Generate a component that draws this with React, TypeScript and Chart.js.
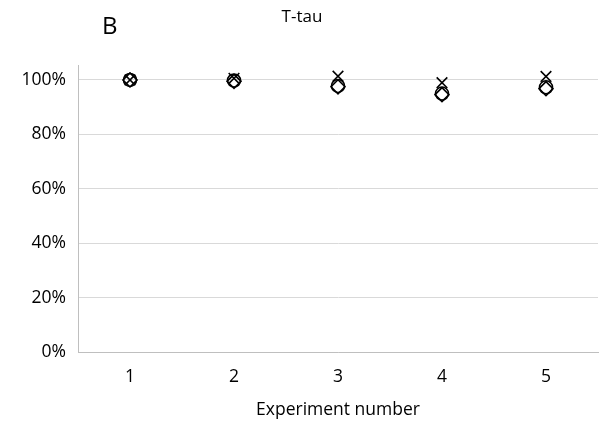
import React, { useEffect, useRef } from "react";
import { Chart, registerables } from "chart.js";

Chart.register(...registerables);

const categories = ["1", "2", "3", "4", "5"];
const circleSeries = [100, 99.8, 97.8, 95.0, 97.3];
const diamondSeries = [100, 99.5, 97.5, 94.6, 96.8];
const crossSeries = [100, 100.6, 101.4, 99.0, 101.3];
const yTicks = [0, 20, 40, 60, 80, 100];
const chartTitle = "T-tau";
const panelLabel = "B";
const xTitle = "Experiment number";

const FONT = "'Open Sans', sans-serif";
const FS = 17.5;

const textPlugin = {
  id: "texts",
  afterDraw(chart: any) {
    const ctx = chart.ctx;
    ctx.save();
    ctx.fillStyle = "#000";
    ctx.textBaseline = "middle";
    ctx.textAlign = "center";
    ctx.font = `17px ${FONT}`;
    ctx.fillText(chartTitle, 302, 17);
    ctx.textAlign = "left";
    ctx.font = `24px ${FONT}`;
    ctx.fillText(panelLabel, 102, 27);
    ctx.restore();
  },
};

export default function App() {
  const ref = useRef<HTMLCanvasElement>(null);
  useEffect(() => {
    document.body.style.margin = "0";
    const mk = (label: string, data: number[], style: string, radius: number) => ({
      label,
      data,
      showLine: false,
      pointStyle: style,
      pointRadius: radius,
      pointBorderColor: "#000",
      pointBackgroundColor: "rgba(0,0,0,0)",
      pointBorderWidth: 1.6,
      borderColor: "#000",
      backgroundColor: "rgba(0,0,0,0)",
    });
    const chart = new Chart(ref.current!, {
      type: "line",
      data: {
        labels: categories,
        datasets: [
          mk("Circle", circleSeries, "circle", 6.5),
          mk("Diamond", diamondSeries, "rectRot", 7),
          mk("Cross", crossSeries, "crossRot", 7.5),
        ],
      },
      plugins: [textPlugin],
      options: {
        animation: false,
        responsive: false,
        layout: { padding: { left: 0, right: 15, top: 65, bottom: 0 } },
        plugins: { legend: { display: false }, tooltip: { enabled: false }, title: { display: false } },
        scales: {
          x: {
            type: "category",
            offset: true,
            grid: { display: false, drawTicks: false },
            border: { display: true, color: "#bfbfbf", width: 1 },
            ticks: { color: "#000", font: { family: FONT, size: FS }, padding: 15 },
            title: {
              display: true,
              text: xTitle,
              color: "#000",
              font: { family: FONT, size: FS },
              padding: { top: 6, bottom: 12 },
            },
            afterFit(scale: any) {
              scale.height = 81;
            },
          },
          y: {
            min: 0,
            max: 105.5,
            grid: { color: "#d9d9d9", drawTicks: false, lineWidth: 1 },
            border: { display: true, color: "#bfbfbf", width: 1 },
            ticks: {
              stepSize: 20,
              color: "#000",
              font: { family: FONT, size: FS },
              padding: 12,
              callback: (v: any) => v + "%",
            },
            afterBuildTicks(axis: any) {
              axis.ticks = yTicks.map((v) => ({ value: v }));
            },
            afterFit(scale: any) {
              scale.width = 78;
            },
          },
        },
      },
    });
    return () => chart.destroy();
  }, []);
  return (
    <div style={{ width: 613, height: 433 }}>
      <canvas ref={ref} width={613} height={433} style={{ display: "block" }} />
    </div>
  );
}
